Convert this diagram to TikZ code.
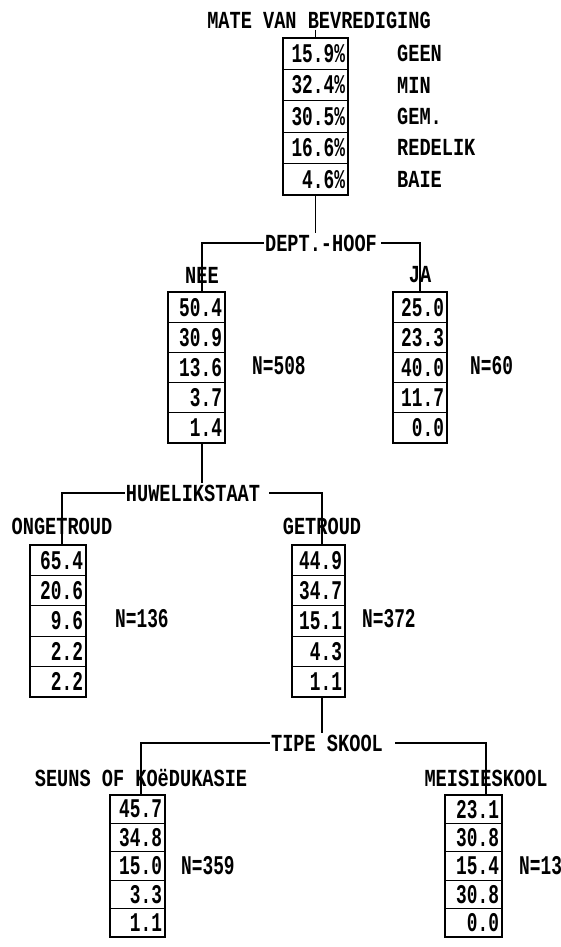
\documentclass[tikz,border=0pt]{standalone}
\usepackage{fontspec}
\newfontfamily\prtfont[FakeStretch=0.76]{Liberation Mono}
\newfontfamily\numfont[FakeStretch=0.66]{Liberation Mono}
\tikzset{
  base/.style={font=\prtfont\bfseries\fontsize{24.5}{24.5}\selectfont, inner sep=1pt},
  numb/.style={font=\numfont\bfseries\fontsize{27}{27}\selectfont, inner sep=1pt},
  cell/.style={numb, draw, line width=1.2pt, text width=#1, align=right, inner xsep=3pt, inner ysep=0pt},
  lbl/.style={base},
  nlbl/.style={numb, anchor=west},
  conn/.style={line width=1.2pt},
}
\begin{document}
\begin{tikzpicture}[x=1pt,y=-1pt]
  \useasboundingbox (0,0) rectangle (561,947);
  % overall distribution
  \node[lbl] (title) at (319,20) {MATE VAN BEVREDIGING};
  \foreach \v/\k [count=\i] in {15.9\%/GEEN,32.4\%/MIN,30.5\%/GEM.,16.6\%/REDELIK,4.6\%/BAIE}{
    \node[cell=59pt,minimum height=31.4pt] (top\i) at (315.5,{38+31.4*(\i-0.5)}) {\v};
    \node[lbl,anchor=west] (cat\i) at (396,{38+31.4*(\i-0.5)}) {\k};
  }
  \draw[conn] (title.south -| top1.north) -- (top1.north);
  % split on DEPT.-HOOF
  \node[lbl] (dept) at (321,243) {DEPT.-HOOF};
  \draw[conn] (top5.south) -- (top5.south |- dept.north);
  \node[lbl] (neelab) at (202,275) {NEE};
  \node[lbl] (jalab) at (420,275) {JA};
  \foreach \v [count=\i] in {50.4,30.9,13.6,3.7,1.4}
    \node[cell=51pt,minimum height=30.2pt] (nee\i) at (196.5,{292+30.2*(\i-0.5)}) {\v};
  \foreach \v [count=\i] in {25.0,23.3,40.0,11.7,0.0}
    \node[cell=48pt,minimum height=30.2pt] (ja\i) at (420,{292+30.2*(\i-0.5)}) {\v};
  \node[nlbl] (neen) at (251,366) {N=508};
  \node[nlbl] (jan) at (469,366) {N=60};
  \draw[conn] (dept.west) -| (neelab.north);
  \draw[conn] ([xshift=3pt]dept.east) -| (jalab.north);
  \draw[conn] (neelab.north) -- (neelab.north |- nee1.north);
  \draw[conn] (jalab.north) -- (jalab.north |- ja1.north);
  % split on HUWELIKSTAAT
  \node[lbl] (huw) at (193,493) {HUWELIKSTAAT};
  \draw[conn] (neelab |- nee5.south) -- (neelab |- huw.north);
  \node[lbl] (onglab) at (62,526) {ONGETROUD};
  \node[lbl] (getlab) at (322,526) {GETROUD};
  \foreach \v [count=\i] in {65.4,20.6,9.6,2.2,2.2}
    \node[cell=50pt,minimum height=30.4pt] (ong\i) at (58,{545+30.4*(\i-0.5)}) {\v};
  \foreach \v [count=\i] in {44.9,34.7,15.1,4.3,1.1}
    \node[cell=47pt,minimum height=30.4pt] (get\i) at (318.5,{545+30.4*(\i-0.5)}) {\v};
  \node[nlbl] (ongn) at (114,619) {N=136};
  \node[nlbl] (getn) at (361,619) {N=372};
  \draw[conn] (huw.west) -| (onglab.north);
  \draw[conn] ([xshift=8pt]huw.east) -| (getlab.north);
  \draw[conn] (onglab.north) -- (onglab.north |- ong1.north);
  \draw[conn] (getlab.north) -- (getlab.north |- get1.north);
  % split on TIPE SKOOL
  \node[lbl] (tipe) at (327,743) {TIPE SKOOL};
  \draw[conn] (getlab |- get5.south) -- (getlab |- tipe.north);
  \node[lbl] (seulab) at (141,778) {SEUNS OF KOëDUKASIE};
  \node[lbl] (meilab) at (486,778) {MEISIESKOOL};
  \foreach \v [count=\i] in {45.7,34.8,15.0,3.3,1.1}
    \node[cell=49pt,minimum height=28.4pt] (seu\i) at (137.5,{795+28.4*(\i-0.5)}) {\v};
  \foreach \v [count=\i] in {23.1,30.8,15.4,30.8,0.0}
    \node[cell=51pt,minimum height=28.4pt] (mei\i) at (473.5,{795+28.4*(\i-0.5)}) {\v};
  \node[nlbl] (seun) at (180,866) {N=359};
  \node[nlbl] (mein) at (518,866) {N=13};
  \draw[conn] (tipe.west) -| (seulab.north);
  \draw[conn] ([xshift=11pt]tipe.east) -| (meilab.north);
  \draw[conn] (seulab.north) -- (seulab.north |- seu1.north);
  \draw[conn] (meilab.north) -- (meilab.north |- mei1.north);
\end{tikzpicture}
\end{document}
